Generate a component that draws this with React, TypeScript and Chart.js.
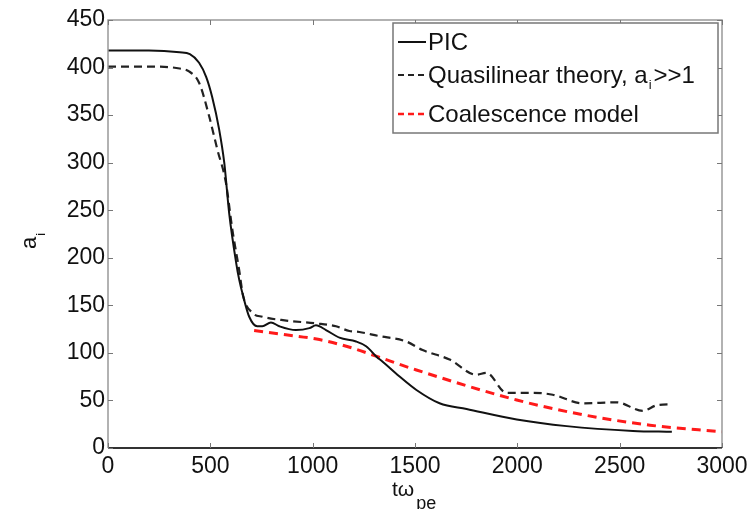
import React, { useEffect, useRef } from "react";
import { Chart, registerables } from "chart.js";

Chart.register(...registerables);

const picX = [0, 200, 350, 400, 445, 480, 509, 543, 568, 592, 626, 641, 660, 690, 729, 754, 796, 837, 918, 984, 1016, 1065, 1131, 1212, 1261, 1317, 1335, 1420, 1507, 1620, 1752, 1997, 2241, 2565, 2755];
const picY = [418, 418, 416, 414, 405, 390, 369, 335, 300, 247, 195, 177, 160, 138, 128, 128, 132, 128, 124, 126, 129, 124, 116, 112, 107, 95, 92, 76, 61, 47, 41, 30, 23, 18, 17];

const qlX = [0, 200, 350, 396, 445, 494, 534, 576, 608, 641, 660, 706, 754, 871, 1016, 1114, 1179, 1228, 1317, 1457, 1537, 1669, 1800, 1849, 1947, 2075, 2173, 2320, 2486, 2613, 2682, 2755];
const qlY = [401, 401, 399, 396, 384, 349, 314, 279, 229, 187, 160, 142, 138, 134, 131, 128, 123, 122, 118, 112, 103, 93, 77, 79, 58, 58, 56, 47, 48, 39, 45, 46];

const coX = [714, 869, 1033, 1195, 1317, 1507, 1997, 2320, 2648, 3000];
const coY = [123.5, 119, 114, 105, 96, 82, 50.5, 35, 24, 17];

const xTicks = [0, 500, 1000, 1500, 2000, 2500, 3000];
const yTicks = [0, 50, 100, 150, 200, 250, 300, 350, 400, 450];

const FONT = "'Liberation Sans', Arial, sans-serif";

const pts = (xs: number[], ys: number[]) => xs.map((x, i) => ({ x, y: ys[i] }));

const decorPlugin = {
  id: "decor",
  afterDraw(chart: any) {
    const ctx = chart.ctx as CanvasRenderingContext2D;
    const { left, right, top, bottom } = chart.chartArea;
    const xs = chart.scales.x;
    const ys = chart.scales.y;
    ctx.save();
    // frame
    ctx.lineWidth = 1.5;
    ctx.strokeStyle = "#999";
    ctx.beginPath();
    ctx.moveTo(left, bottom);
    ctx.lineTo(left, top);
    ctx.lineTo(right, top);
    ctx.lineTo(right, bottom);
    ctx.stroke();
    ctx.strokeStyle = "#333";
    ctx.lineWidth = 2;
    ctx.beginPath();
    ctx.moveTo(left, bottom);
    ctx.lineTo(right, bottom);
    ctx.stroke();
    // ticks
    ctx.strokeStyle = "#777";
    ctx.lineWidth = 1;
    const tl = 5;
    xTicks.forEach((v) => {
      const px = Math.round(xs.getPixelForValue(v)) + 0.5;
      ctx.beginPath();
      ctx.moveTo(px, bottom);
      ctx.lineTo(px, bottom - tl);
      ctx.moveTo(px, top);
      ctx.lineTo(px, top + tl);
      ctx.stroke();
    });
    yTicks.forEach((v) => {
      const py = Math.round(ys.getPixelForValue(v)) + 0.5;
      ctx.beginPath();
      ctx.moveTo(left, py);
      ctx.lineTo(left + tl, py);
      ctx.moveTo(right, py);
      ctx.lineTo(right - tl, py);
      ctx.stroke();
    });

    // legend
    const bx = 393, by = 23, bw = 325, bh = 110;
    ctx.fillStyle = "#fff";
    ctx.fillRect(bx, by, bw, bh);
    ctx.strokeStyle = "#777";
    ctx.lineWidth = 1.5;
    ctx.strokeRect(bx, by, bw, bh);
    const rows = [
      { y: 42, color: "#111", dash: [] as number[], w: 2 },
      { y: 75, color: "#222", dash: [6, 4], w: 2 },
      { y: 114, color: "#ff1a1a", dash: [6, 4], w: 2.5 },
    ];
    rows.forEach((r) => {
      ctx.strokeStyle = r.color;
      ctx.lineWidth = r.w;
      ctx.setLineDash(r.dash);
      ctx.beginPath();
      ctx.moveTo(398, r.y);
      ctx.lineTo(426, r.y);
      ctx.stroke();
    });
    ctx.setLineDash([]);
    ctx.fillStyle = "#111";
    ctx.textBaseline = "middle";
    ctx.textAlign = "left";
    ctx.font = `24px ${FONT}`;
    ctx.fillText("PIC", 428, 43);
    const s1 = "Quasilinear theory, a";
    ctx.fillText(s1, 428, 76);
    let w1 = ctx.measureText(s1).width;
    ctx.font = `13px ${FONT}`;
    ctx.fillText("i", 428 + w1 + 1, 85);
    const wi = ctx.measureText("i").width;
    ctx.font = `24px ${FONT}`;
    ctx.fillText(">>1", 428 + w1 + wi + 3, 76);
    ctx.fillText("Coalescence model", 428, 115);

    // x axis title
    ctx.textBaseline = "alphabetic";
    ctx.font = `21px ${FONT}`;
    ctx.fillText("tω", 392, 496);
    const wt = ctx.measureText("tω").width;
    ctx.font = `18px ${FONT}`;
    ctx.fillText("pe", 392 + wt + 2, 509);

    // y axis title
    ctx.save();
    ctx.translate(36, 249);
    ctx.rotate(-Math.PI / 2);
    ctx.font = `22px ${FONT}`;
    ctx.fillText("a", 0, 0);
    const wa = ctx.measureText("a").width;
    ctx.font = `13px ${FONT}`;
    ctx.fillText("i", wa + 1, 9);
    ctx.restore();

    ctx.restore();
  },
};

export default function App() {
  const ref = useRef<HTMLCanvasElement | null>(null);
  useEffect(() => {
    if (!ref.current) return;
    const chart = new Chart(ref.current, {
      type: "line",
      data: {
        datasets: [
          {
            label: "PIC",
            data: pts(picX, picY),
            borderColor: "#111",
            borderWidth: 2,
            pointRadius: 0,
            cubicInterpolationMode: "monotone",
            fill: false,
          },
          {
            label: "Quasilinear theory, a_i>>1",
            data: pts(qlX, qlY),
            borderColor: "#222",
            borderWidth: 2.2,
            borderDash: [8, 5],
            pointRadius: 0,
            cubicInterpolationMode: "monotone",
            fill: false,
          },
          {
            label: "Coalescence model",
            data: pts(coX, coY),
            borderColor: "#ff1a1a",
            borderWidth: 3,
            borderDash: [9, 6],
            pointRadius: 0,
            cubicInterpolationMode: "monotone",
            fill: false,
          },
        ],
      },
      options: {
        animation: false,
        responsive: true,
        maintainAspectRatio: false,
        layout: { padding: { top: 20, right: 34, left: 0, bottom: 0 } },
        plugins: { legend: { display: false }, tooltip: { enabled: false } },
        scales: {
          x: {
            type: "linear",
            min: 0,
            max: 3000,
            afterBuildTicks: (s: any) => {
              s.ticks = xTicks.map((v) => ({ value: v }));
            },
            afterFit: (s: any) => {
              s.height = 61;
            },
            grid: { display: false, drawTicks: false },
            border: { display: false },
            ticks: {
              color: "#111",
              font: { family: FONT, size: 23 },
              padding: 5,
              maxRotation: 0,
              callback: (v: any) => String(v),
            },
          },
          y: {
            type: "linear",
            min: 0,
            max: 450,
            afterBuildTicks: (s: any) => {
              s.ticks = yTicks.map((v) => ({ value: v }));
            },
            afterFit: (s: any) => {
              s.width = 108;
            },
            grid: { display: false, drawTicks: false },
            border: { display: false },
            ticks: {
              color: "#111",
              font: { family: FONT, size: 23 },
              padding: 3,
              callback: (v: any) => String(v),
            },
          },
        },
      },
      plugins: [decorPlugin],
    });
    return () => chart.destroy();
  }, []);
  return (
    <div style={{ position: "absolute", left: 0, top: 0, width: 756, height: 509, background: "#fff" }}>
      <canvas ref={ref} />
    </div>
  );
}
